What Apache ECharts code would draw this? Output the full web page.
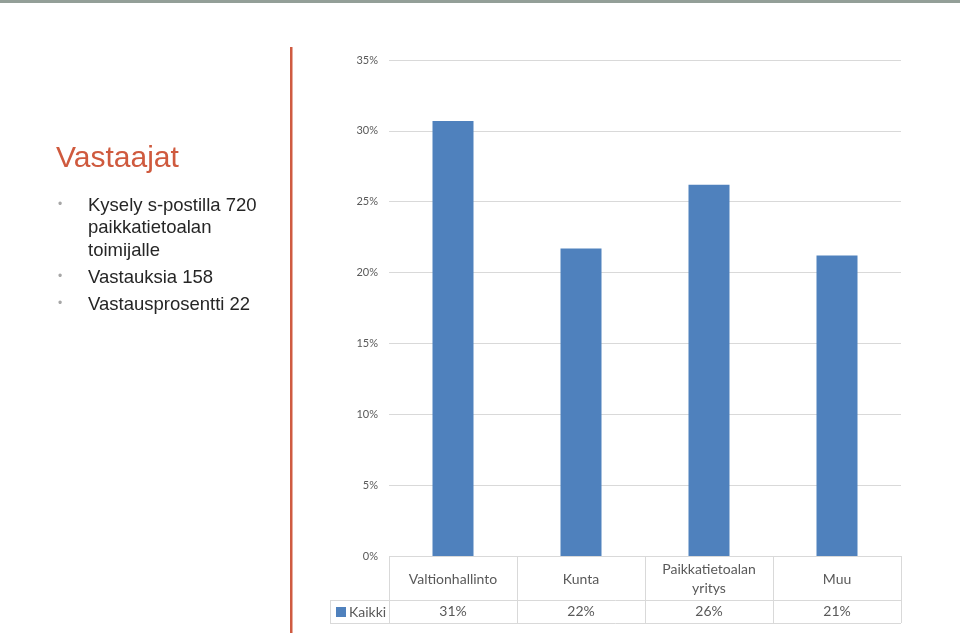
<!DOCTYPE html>
<html><head><meta charset="utf-8">
<script src="https://cdn.jsdelivr.net/npm/echarts@6/dist/echarts.min.js"></script>
<style>html,body{margin:0;padding:0;background:#fff}#c{width:960px;height:635px}</style>
</head><body><div id="c"></div>
<script>
const categories = ['Valtionhallinto', 'Kunta', 'Paikkatietoalan\nyritys', 'Muu'];
const seriesName = 'Kaikki';
const values = [30.7, 21.7, 26.2, 21.2];
const tableLabels = ['31%', '22%', '26%', '21%'];
const yTicks = [0, 5, 10, 15, 20, 25, 30, 35];
const bullets = [['Kysely s-postilla 720', 'paikkatietoalan', 'toimijalle'], ['Vastauksia 158'], ['Vastausprosentti 22']];

const W = 960, H = 635;
const G = {left: 389, right: 59, top: 60, bottom: 79};
const plotR = W - G.right, plotB = H - G.bottom;
const row1 = 44, row2 = 23, legL = 330;
const lineC = '#d9d9d9';
const colW = (plotR - G.left) / categories.length;

const gfx = [];
gfx.push({type: 'rect', shape: {x: 0, y: 0, width: W, height: 3}, style: {fill: '#939f98'}});
gfx.push({type: 'rect', shape: {x: 290, y: 47, width: 2.5, height: 586}, style: {fill: '#cf5b41'}});
gfx.push({type: 'text', x: 56, y: 144, style: {text: 'Vastaajat', font: '30px "Liberation Sans", Arial', fill: '#cf5a3e'}});
let y = 196;
bullets.forEach((b) => {
  gfx.push({type: 'text', x: 58, y: y + 3, style: {text: '•', font: '12px "Liberation Sans"', fill: '#a6a6a6'}});
  b.forEach((ln, k) => {
    gfx.push({type: 'text', x: 88, y: y, style: {text: ln, font: '18.5px "Liberation Sans", Arial', fill: '#262626'}});
    y += 22.5;
  });
  y += 4.5;
});
// table lines
const hl = (x1, x2, yy) => gfx.push({type: 'line', shape: {x1, y1: yy, x2, y2: yy}, style: {stroke: lineC, lineWidth: 1}});
const vl = (xx, y1, y2) => gfx.push({type: 'line', shape: {x1: xx, y1, x2: xx, y2}, style: {stroke: lineC, lineWidth: 1}});
hl(G.left, plotR, plotB + 0.5);
hl(legL, plotR, plotB + row1 + 0.5);
hl(legL, plotR, plotB + row1 + row2 + 0.5);
vl(legL + 0.5, plotB + row1, plotB + row1 + row2);
for (let i = 0; i <= categories.length; i++) vl(Math.round(G.left + i * colW) + 0.5, plotB, plotB + row1 + row2);

const txt = {fontFamily: 'Lato, "Open Sans", sans-serif', color: '#595959'};
const option = {
  animation: false,
  backgroundColor: '#fff',
  grid: {left: G.left, right: G.right, top: G.top, bottom: G.bottom, containLabel: false},
  legend: {show: true, left: legL + 1, top: plotB + row1, icon: 'rect', itemWidth: 10, itemHeight: 10, itemGap: 4,
    textStyle: Object.assign({fontSize: 14, padding: [0, 0, 0, -2]}, txt), data: [seriesName]},
  xAxis: [
    {type: 'category', data: categories, position: 'bottom', axisLine: {show: false}, axisTick: {show: false},
      axisLabel: Object.assign({fontSize: 14, margin: row1 / 2 + 1, verticalAlign: 'middle', lineHeight: 19, interval: 0}, txt)},
    {type: 'category', data: categories, position: 'bottom', offset: row1, axisLine: {show: false}, axisTick: {show: false},
      axisLabel: Object.assign({fontSize: 14, margin: row2 / 2, verticalAlign: 'middle', interval: 0,
        formatter: (v, i) => tableLabels[i]}, txt)}
  ],
  yAxis: {type: 'value', min: 0, max: 35, interval: 5, axisLine: {show: false}, axisTick: {show: false},
    splitLine: {lineStyle: {color: lineC, width: 1}},
    axisLabel: Object.assign({fontSize: 11, margin: 11, formatter: (v) => v + '%'}, txt)},
  series: [{name: seriesName, type: 'bar', data: values, barWidth: 41, itemStyle: {color: '#4f81bd'}}],
  graphic: gfx
};
const chart = echarts.init(document.getElementById('c'), null, {renderer: 'canvas'});
chart.setOption(option);
</script></body></html>
